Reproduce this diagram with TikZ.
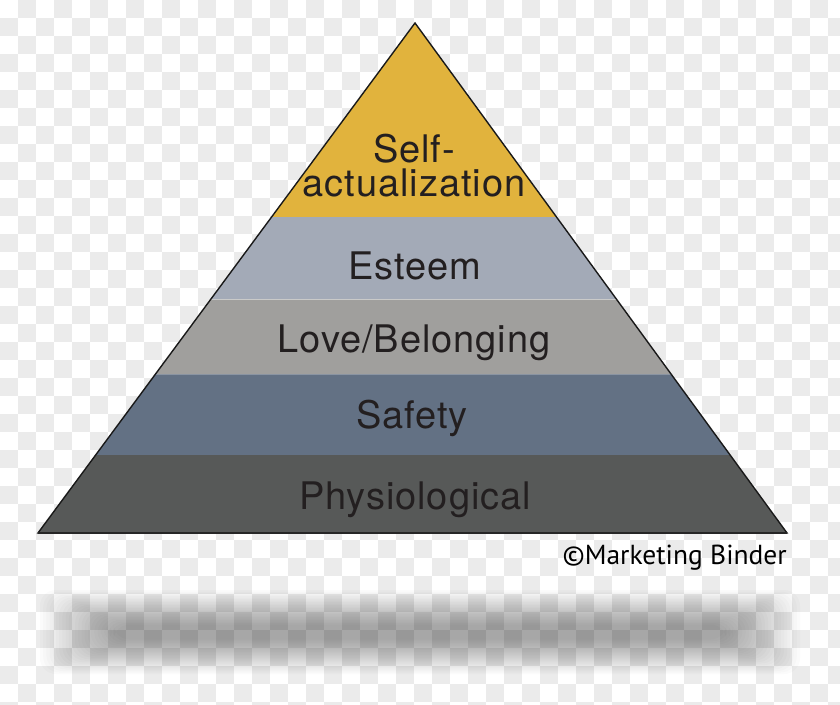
\documentclass[tikz,border=0pt]{standalone}
\usepackage{fontspec}
\setmainfont{TeX Gyre Heros}
\newfontfamily\levelfont[LetterSpace=2.5]{TeX Gyre Heros}
\newfontfamily\markfont{PT Sans}
\usepackage{xcolor}
\usepackage{tikz}
\usetikzlibrary{calc,positioning}
\definecolor{checkGray}{RGB}{235,235,235}
\definecolor{needGold}{RGB}{225,179,61}
\definecolor{needEsteem}{RGB}{163,170,183}
\definecolor{needLove}{RGB}{160,159,157}
\definecolor{needSafety}{RGB}{99,113,132}
\definecolor{needBody}{RGB}{87,89,88}
\definecolor{needInk}{RGB}{35,31,32}
\tikzset{
  level label/.style={anchor=base, text=needInk, inner sep=0pt,
    font=\levelfont\fontsize{38bp}{33bp}\selectfont},
}

\begin{document}
\begin{tikzpicture}[x=1bp,y=-1bp]
    \useasboundingbox (0,0) rectangle (840,705);
    % transparency checkerboard
    \fill[white] (0,0) rectangle (840,705);
    \begin{scope}
        \clip (0,0) rectangle (840,705);
        \foreach \j in {0,...,39}
            \foreach \i in {0,...,46} {
                \pgfmathtruncatemacro\odd{mod(\i+\j,2)}
                \ifnum\odd=1 \fill[checkGray] (\i*18,\j*18) rectangle ++(18,18); \fi
            }
    \end{scope}

    % soft shadow under the pyramid
    \foreach \k in {0,...,23}
        \fill[black, opacity=0.014, rounded corners=16]
            (40+3.2*\k,590+1.5*\k) rectangle (800-3.2*\k,674-1.5*\k);

    % pyramid bands
    \coordinate (apex) at (415,23);
    \coordinate (baseL) at (38,533);
    \coordinate (baseR) at (787,533);
    \begin{scope}
        \clip (apex) -- (baseL) -- (baseR) -- cycle;
        \fill[needGold]   (0,0)   rectangle (840,217);
        \fill[needEsteem] (0,217) rectangle (840,299);
        \fill[needLove]   (0,299) rectangle (840,374);
        \fill[needSafety] (0,374) rectangle (840,455);
        \fill[needBody]   (0,455) rectangle (840,533);
        \draw[white, opacity=0.45, line width=0.8pt] (0,299) -- (840,299);
        \draw[white, opacity=0.25, line width=0.8pt] (0,374) -- (840,374);
    \end{scope}
    \draw[black!90, line width=1.4pt, line join=miter] (apex) -- (baseL) -- (baseR) -- cycle;
    \draw[black!85, line width=2pt] (baseL) -- (baseR);

    \node[level label, align=center] (selfact) at (414,196) {Self-\\actualization};
    \node[level label] (esteem) at (415,279) {Esteem};
    \node[level label] (love) at (414,352) {Love/Belonging};
    \node[level label] (safety) at (412,428) {Safety};
    \node[level label] (body) at (415,509) {Physiological};

    \node[anchor=base east, inner sep=0pt, text=black,
          font=\markfont\fontsize{27.5bp}{30bp}\selectfont] (credit) at (787,564) {©Marketing Binder};
\end{tikzpicture}
\end{document}
